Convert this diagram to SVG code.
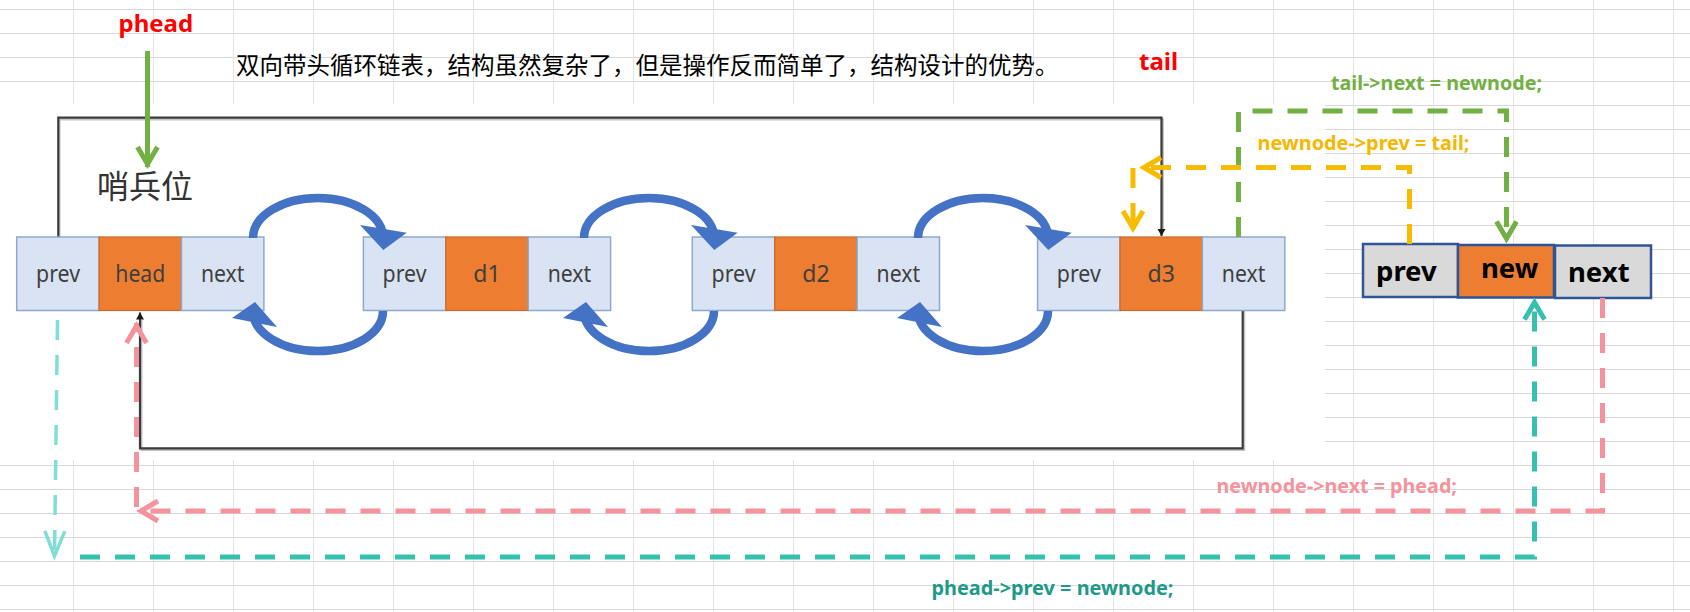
<svg xmlns="http://www.w3.org/2000/svg" width="1690" height="612" viewBox="0 0 1690 612">
<style>
.gh{stroke:#d9d9d9;stroke-width:1.2;fill:none}
.gv{stroke:#e4e4e4;stroke-width:1;fill:none}
.cb{fill:#dae3f3;stroke:#8ea9cc;stroke-width:1.5}
.co{fill:#ed7d31;stroke:#c86a2c;stroke-width:1.2}
.nt{font-family:"Noto Sans","Liberation Sans",sans-serif;font-size:23px;fill:#3f3f3f;text-anchor:middle}
.ng{fill:#d9d9d9;stroke:#2f5597;stroke-width:2.5}
.no{fill:#ed7d31;stroke:#2f5597;stroke-width:2.5}
.nb{font-family:"Noto Sans","Liberation Sans",sans-serif;font-size:27.5px;font-weight:bold;fill:#000}
.lbl{font-family:"Noto Sans","Liberation Sans",sans-serif;font-size:19.7px;font-weight:bold}
.blk{fill:none;stroke:#3a3a3a;stroke-width:2.2}
.shd{fill:none;stroke:#c4c4c4;stroke-width:2}
.arc{fill:none;stroke:#4472c4;stroke-width:8.5}
.ah{fill:#4472c4}
.d{fill:none;stroke-width:5;stroke-dasharray:20 15}
.cjk{font-family:"Noto Sans CJK SC",sans-serif}
</style>
<defs>
<marker id="chev-g" markerUnits="userSpaceOnUse" viewBox="-30 -15 35 30" markerWidth="35" markerHeight="30" refX="0" refY="0" orient="auto" overflow="visible"><path d="M-20,-10 L-3,0 L-20,10" fill="none" stroke="#72b043" stroke-width="5"/></marker>
<marker id="chev-y" markerUnits="userSpaceOnUse" viewBox="-30 -15 35 30" markerWidth="35" markerHeight="30" refX="0" refY="0" orient="auto" overflow="visible"><path d="M-20,-10 L-3,0 L-20,10" fill="none" stroke="#f7bb00" stroke-width="5"/></marker>
<marker id="chev-p" markerUnits="userSpaceOnUse" viewBox="-30 -15 35 30" markerWidth="35" markerHeight="30" refX="0" refY="0" orient="auto" overflow="visible"><path d="M-20,-10 L-3,0 L-20,10" fill="none" stroke="#f4939c" stroke-width="5"/></marker>
<marker id="chev-t" markerUnits="userSpaceOnUse" viewBox="-30 -15 35 30" markerWidth="35" markerHeight="30" refX="0" refY="0" orient="auto" overflow="visible"><path d="M-20,-10 L-3,0 L-20,10" fill="none" stroke="#35c1ae" stroke-width="5"/></marker>
<marker id="chev-c" markerUnits="userSpaceOnUse" viewBox="-30 -15 35 30" markerWidth="35" markerHeight="30" refX="0" refY="0" orient="auto" overflow="visible"><path d="M-26,-10 L-1,0 L-26,10" fill="none" stroke="#7fdfd6" stroke-width="3.5"/></marker>
<marker id="tri-k" markerUnits="userSpaceOnUse" viewBox="-10 -6 12 12" markerWidth="12" markerHeight="12" refX="0" refY="0" orient="auto" overflow="visible"><path d="M-7,-4 L0,0 L-7,4 z" fill="#1a1a1a"/></marker>
</defs>

<g id="grid">
<path class="gh" d="M0,9.5H1690M0,33.5H1690M0,57.5H1690M0,81.5H1690M0,105.5H1690M0,129.5H1690M0,153.5H1690M0,177.5H1690M0,201.5H1690M0,225.5H1690M0,249.5H1690M0,273.5H1690M0,297.5H1690M0,321.5H1690M0,345.5H1690M0,369.5H1690M0,393.5H1690M0,417.5H1690M0,441.5H1690M0,465.5H1690M0,489.5H1690M0,513.5H1690M0,537.5H1690M0,561.5H1690M0,585.5H1690M0,609.5H1690"/>
<path class="gv" d="M73.5,0V612M153.5,0V612M233.5,0V612M313.5,0V612M393.5,0V612M473.5,0V612M553.5,0V612M633.5,0V612M713.5,0V612M793.5,0V612M873.5,0V612M953.5,0V612M1033.5,0V612M1113.5,0V612M1193.5,0V612M1273.5,0V612M1353.5,0V612M1433.5,0V612M1513.5,0V612M1593.5,0V612M1673.5,0V612"/>
<rect x="0" y="104" width="1325" height="356" fill="#ffffff"/>
</g>

<g id="titles">
<text x="118.5" y="31.5" font-family="Noto Sans, Liberation Sans, sans-serif" font-size="24" font-weight="bold" fill="#ff0000">phead</text>
<text x="1139" y="69.5" font-family="Noto Sans, Liberation Sans, sans-serif" font-size="24" font-weight="bold" fill="#ff0000">tail</text>
<text class="cjk" x="236" y="74" font-size="23.5" fill="#000">双向带头循环链表，结构虽然复杂了，但是操作反而简单了，结构设计的优势。</text>
<text class="cjk" x="97" y="198" font-size="32" fill="#333333">哨兵位</text>
</g>

<g id="loop-lines">
<path class="shd" d="M59.5,237 V119.5 H1163 V229"/>
<path class="shd" d="M1244.2,311 V450 H141.5 V320"/>
<path class="blk" d="M58.3,237 V117.7 H1161.5 V236" marker-end="url(#tri-k)"/>
<path class="blk" d="M1242.7,310.5 V448.3 H140 V312.5" marker-end="url(#tri-k)"/>
</g>

<g id="node-head">
<rect class="cb" x="16.7" y="237" width="82.4" height="73.5"/>
<rect class="co" x="99.1" y="237" width="82.4" height="73.5"/>
<rect class="cb" x="181.5" y="237" width="82.4" height="73.5"/>
<text class="nt" x="58" y="282" textLength="44" lengthAdjust="spacingAndGlyphs">prev</text>
<text class="nt" x="140.3" y="282" textLength="50" lengthAdjust="spacingAndGlyphs">head</text>
<text class="nt" x="222.7" y="282" textLength="43.5" lengthAdjust="spacingAndGlyphs">next</text>
</g>
<g id="node-d1">
<rect class="cb" x="363.4" y="237" width="82.4" height="73.5"/>
<rect class="co" x="445.8" y="237" width="82.4" height="73.5"/>
<rect class="cb" x="528.2" y="237" width="82.4" height="73.5"/>
<text class="nt" x="404.6" y="282" textLength="44" lengthAdjust="spacingAndGlyphs">prev</text>
<text class="nt" x="487" y="282">d1</text>
<text class="nt" x="569.4" y="282" textLength="43.5" lengthAdjust="spacingAndGlyphs">next</text>
</g>
<g id="node-d2">
<rect class="cb" x="692.3" y="237" width="82.4" height="73.5"/>
<rect class="co" x="774.7" y="237" width="82.4" height="73.5"/>
<rect class="cb" x="857.1" y="237" width="82.4" height="73.5"/>
<text class="nt" x="733.5" y="282" textLength="44" lengthAdjust="spacingAndGlyphs">prev</text>
<text class="nt" x="815.9" y="282">d2</text>
<text class="nt" x="898.3" y="282" textLength="43.5" lengthAdjust="spacingAndGlyphs">next</text>
</g>
<g id="node-d3">
<rect class="cb" x="1037.6" y="237" width="82.4" height="73.5"/>
<rect class="co" x="1120" y="237" width="82.4" height="73.5"/>
<rect class="cb" x="1202.4" y="237" width="82.4" height="73.5"/>
<text class="nt" x="1078.8" y="282" textLength="44" lengthAdjust="spacingAndGlyphs">prev</text>
<text class="nt" x="1161.2" y="282">d3</text>
<text class="nt" x="1243.6" y="282" textLength="43.5" lengthAdjust="spacingAndGlyphs">next</text>
</g>
<g id="node-new">
<rect class="ng" x="1363" y="244" width="95" height="53"/>
<rect class="no" x="1458" y="245" width="96" height="52.5"/>
<rect class="ng" x="1555" y="245.5" width="96" height="52.5"/>
<text class="nb" x="1376" y="281">prev</text>
<text class="nb" x="1481" y="278">new</text>
<text class="nb" x="1568" y="282">next</text>
</g>

<g id="connectors">
<path d="M147.5,51 V167" fill="none" stroke="#72b043" stroke-width="5" marker-end="url(#chev-g)"/>
<path class="arc" d="M253,238 A65,40 0 0 1 383,238"/>
<polygon class="ah" points="360,225 406.7,232.7 383.3,250"/>
<path class="arc" d="M383,311 A65,40 0 0 1 253,311"/>
<polygon class="ah" points="255,302 232,318 277,327"/>
<path class="arc" d="M584,238 A65,40 0 0 1 714,238"/>
<polygon class="ah" points="691,225 737.7,232.7 714.3,250"/>
<path class="arc" d="M714,311 A65,40 0 0 1 584,311"/>
<polygon class="ah" points="586,302 563,318 608,327"/>
<path class="arc" d="M918,238 A65,40 0 0 1 1048,238"/>
<polygon class="ah" points="1025,225 1071.7,232.7 1048.3,250"/>
<path class="arc" d="M1048,311 A65,40 0 0 1 918,311"/>
<polygon class="ah" points="920,302 897,318 942,327"/>
<path class="d" stroke="#72b043" d="M1238.5,237 V111 H1506.5 V241.5" marker-end="url(#chev-g)"/>
<path class="d" stroke="#f7bb00" d="M1409.5,244 V167.5 H1141" marker-end="url(#chev-y)"/>
<path class="d" stroke="#f7bb00" d="M1133,168 V231" marker-end="url(#chev-y)"/>
<path class="d" stroke="#f4939c" d="M1602.5,298 V511 H138" marker-end="url(#chev-p)"/>
<path class="d" stroke="#f4939c" stroke-width="4" d="M136.5,507 V323" marker-end="url(#chev-p)"/>
<path d="M57.5,320 L54.5,557" fill="none" stroke="#7fdfd6" stroke-width="3.5" stroke-dasharray="20 15" marker-end="url(#chev-c)"/>
<path class="d" stroke="#35c1ae" d="M80,557 H1534.5 V299.5" marker-end="url(#chev-t)"/>
</g>

<g id="labels">
<text class="lbl" x="1331" y="89.5" fill="#72b043" textLength="211" lengthAdjust="spacingAndGlyphs">tail-&gt;next = newnode;</text>
<text class="lbl" x="1257.5" y="149.5" fill="#f5b800" textLength="212" lengthAdjust="spacingAndGlyphs">newnode-&gt;prev = tail;</text>
<text class="lbl" x="1216.5" y="493" fill="#f4939c" textLength="240.5" lengthAdjust="spacingAndGlyphs">newnode-&gt;next = phead;</text>
<text class="lbl" x="931.5" y="595" fill="#1e9a88" textLength="242" lengthAdjust="spacingAndGlyphs">phead-&gt;prev = newnode;</text>
</g>
</svg>
